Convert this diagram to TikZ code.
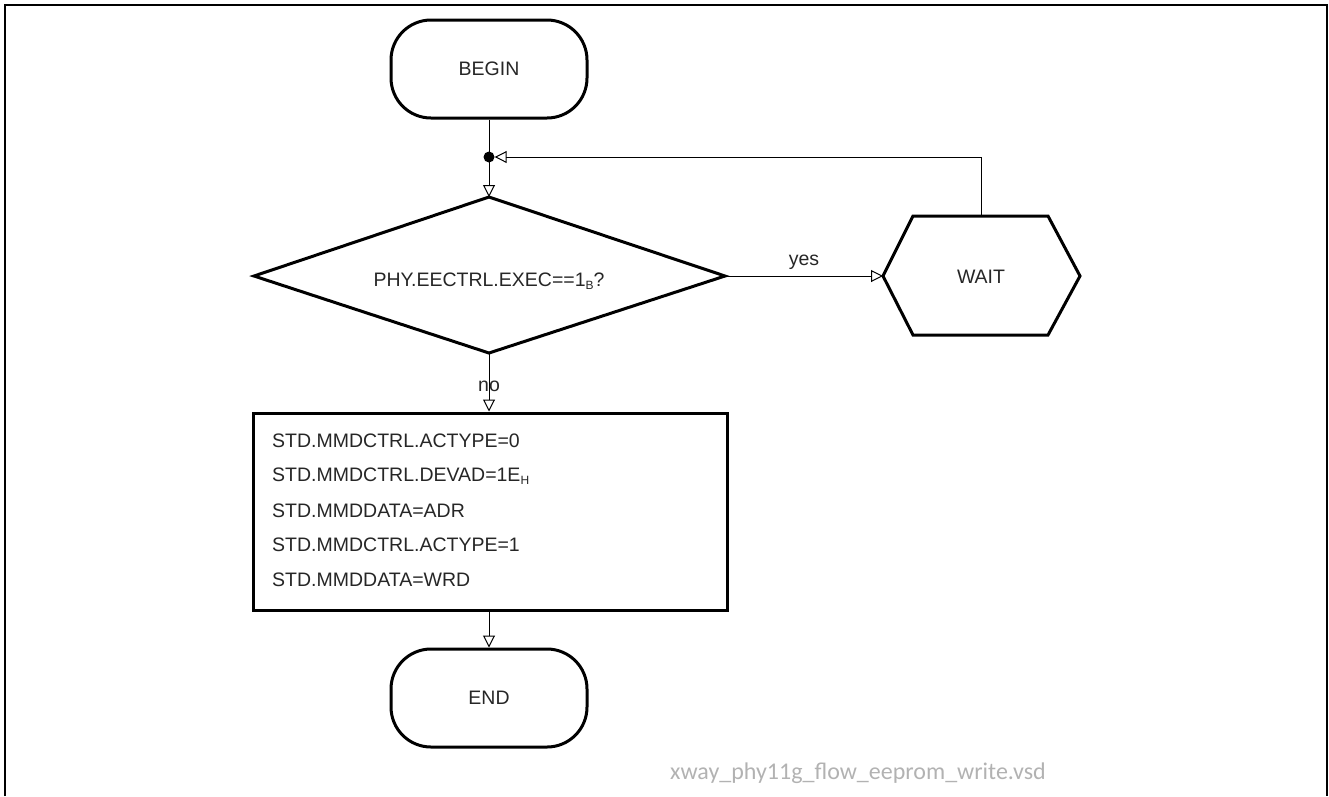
\documentclass[tikz,border=0pt]{standalone}
\usepackage{fontspec}
\setmainfont{Liberation Sans}
\newfontfamily\footfont{Carlito}
\usetikzlibrary{arrows.meta}
\newcommand\mysub[1]{\raisebox{-0.3ex}{\fontsize{12}{12}\selectfont #1}}
\begin{document}
\begin{tikzpicture}[x=1pt,y=-1pt,
  txt/.style={font=\fontsize{19.5}{22}\selectfont, text=black!85, inner sep=0pt},
  term/.style={draw, line width=3pt, rounded corners=40pt, minimum width=196pt, minimum height=98pt, txt},
  shapeline/.style={draw, line width=3pt, line join=miter},
  conn/.style={line width=1pt, -{Triangle[open,length=12pt,width=12pt,line width=1pt]}},
  plain/.style={line width=1pt}]
\useasboundingbox (0,0) rectangle (1329,796);
% frame
\draw[line width=1.5pt] (5,796) -- (5,5) -- (1327,5) -- (1327,796);

% BEGIN
\node[term] (begin) at (489,69) {BEGIN};
% junction
\node[circle, fill, inner sep=0pt, minimum size=11pt] (j) at (489,157) {};

% decision diamond
\coordinate (dtop) at (489,197);
\coordinate (dleft) at (254,276);
\coordinate (dright) at (725,276);
\coordinate (dbot) at (489,353);
\draw[shapeline] (dtop) -- (dright) -- (dbot) -- (dleft) -- cycle;
\node[txt] (dec) at (489,281) {PHY.EECTRL.EXEC==1\mysub{B}?};

% WAIT hexagon
\coordinate (hl) at (883,276);
\coordinate (htl) at (913,216);
\coordinate (htop) at (981,216);
\coordinate (htr) at (1048,216);
\coordinate (hr) at (1080,276);
\coordinate (hbr) at (1048,335);
\coordinate (hbl) at (913,335);
\draw[shapeline] (hl) -- (htl) -- (htr) -- (hr) -- (hbr) -- (hbl) -- cycle;
\node[txt] (wait) at (981,277) {WAIT};

% process box
\node[draw, line width=3pt, minimum width=474pt, minimum height=197pt, inner sep=0pt] (proc) at (490,511.5) {};
\node[txt, anchor=west] (l1) at (272,441) {STD.MMDCTRL.ACTYPE=0};
\node[txt, anchor=west] (l2) at (272,476) {STD.MMDCTRL.DEVAD=1E\mysub{H}};
\node[txt, anchor=west] (l3) at (272,510.5) {STD.MMDDATA=ADR};
\node[txt, anchor=west] (l4) at (272,545) {STD.MMDCTRL.ACTYPE=1};
\node[txt, anchor=west] (l5) at (272,580) {STD.MMDDATA=WRD};

% END
\node[term] (end) at (489,698) {END};

% connectors
\draw[plain] (begin.south) -- (j.center);
\draw[conn] (j.center) -- (dtop);
\draw[conn] (htop) |- (j.east);
\draw[conn] (dright) -- node[txt, above=6pt] (yes) {yes} (hl);
\draw[conn] (dbot) -- (dbot |- proc.north);
\node[txt] (no) at (489,386) {no};
\draw[conn] (end.north |- proc.south) -- (end.north);

% footer
\node[font=\footfont\fontsize{24}{26}\selectfont, text=black!30, inner sep=0pt] (foot) at (858,773) {xway\_phy11g\_flow\_eeprom\_write.vsd};
\end{tikzpicture}
\end{document}
